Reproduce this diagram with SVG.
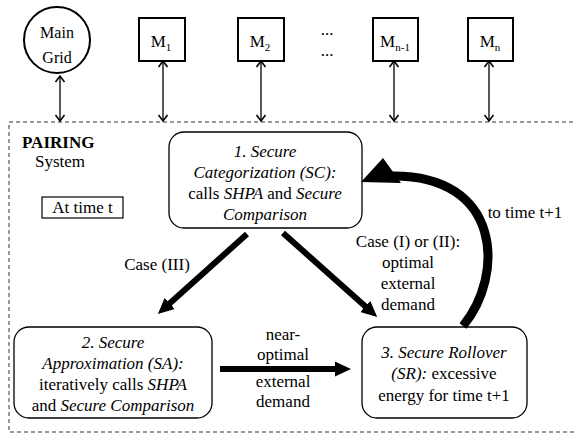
<svg xmlns="http://www.w3.org/2000/svg" width="574" height="435" viewBox="0 0 574 435">
<defs>
<style>
text{font-family:'Liberation Serif','DejaVu Serif',serif;font-size:17px;fill:#000}
.c{text-anchor:middle}
.i{font-style:italic}
.box{fill:#fff;stroke:#000;stroke-width:2}
.rbox{fill:#fff;stroke:#000;stroke-width:1.3}
.thin{stroke:#000;stroke-width:1.3;fill:none;marker-start:url(#v);marker-end:url(#v)}
.thick{stroke:#000;stroke-width:6;fill:none;marker-end:url(#tri)}
</style>
<marker id="v" markerUnits="userSpaceOnUse" markerWidth="14" markerHeight="14" viewBox="-10 -7 14 14" refX="0" refY="0" orient="auto-start-reverse">
<path d="M-6,-4.5 L0,0 L-6,4.5" fill="none" stroke="#000" stroke-width="1.6"/>
</marker>
<marker id="tri" markerUnits="userSpaceOnUse" markerWidth="18" markerHeight="18" viewBox="-1 -9 18 18" refX="0" refY="0" orient="auto">
<path d="M-1,-7.5 L15,0 L-1,7.5 z" fill="#000"/>
</marker>
</defs>

<path d="M580,122 H9 V432 H580" fill="none" stroke="#333" stroke-width="1" stroke-dasharray="4,3"/>

<g font-family="Liberation Serif, serif">
<g id="main-grid">
<circle cx="57" cy="40" r="33" class="box"/>
<text x="57" y="38" class="c" style="font-size:16px">Main</text>
<text x="57" y="63" class="c" style="font-size:16px">Grid</text>
</g>
<g id="m1">
<rect x="139" y="18" width="46" height="43" class="box"/>
<text x="161" y="47" class="c">M<tspan dy="4" font-size="11">1</tspan></text>
</g>
<g id="m2">
<rect x="238" y="18" width="46" height="43" class="box"/>
<text x="260" y="47" class="c">M<tspan dy="4" font-size="11">2</tspan></text>
</g>
<g id="dots">
<text x="327" y="35" class="c">...</text>
<text x="327" y="56" class="c">...</text>
</g>
<g id="mn-1">
<rect x="373" y="18" width="45" height="43" class="box"/>
<text x="395" y="47" class="c">M<tspan dy="4" font-size="11">n-1</tspan></text>
</g>
<g id="mn">
<rect x="468" y="18" width="45" height="43" class="box"/>
<text x="490" y="47" class="c">M<tspan dy="4" font-size="11">n</tspan></text>
</g>

<g id="pairing">
<text x="22" y="148" style="font-weight:bold">PAIRING</text>
<text x="35" y="167">System</text>
</g>
<g id="at-time">
<rect x="42" y="197" width="81" height="21" fill="#fff" stroke="#000" stroke-width="1.2"/>
<text x="82.5" y="213" class="c">At time t</text>
</g>

<g id="sc">
<rect x="169" y="132" width="193" height="96" rx="15" class="rbox"/>
<text x="265" y="157" class="c i">1. Secure</text>
<text x="265" y="178" class="c i">Categorization (SC):</text>
<text x="265" y="199" class="c">calls <tspan class="i">SHPA</tspan> and <tspan class="i">Secure</tspan></text>
<text x="265" y="220" class="c i">Comparison</text>
</g>
<g id="sa">
<rect x="14" y="327" width="198" height="91" rx="15" class="rbox"/>
<text x="113" y="348" class="c i">2. Secure</text>
<text x="113" y="369" class="c i">Approximation (SA):</text>
<text x="113" y="390" class="c">iteratively calls <tspan class="i">SHPA</tspan></text>
<text x="113" y="411" class="c">and <tspan class="i">Secure Comparison</tspan></text>
</g>
<g id="sr">
<rect x="362" y="327" width="165" height="91" rx="15" class="rbox"/>
<text x="444" y="358" class="c i">3. Secure Rollover</text>
<text x="444" y="379" class="c"><tspan class="i">(SR):</tspan> excessive</text>
<text x="444" y="401" class="c">energy for time t+1</text>
</g>

<g id="connectors">
<line x1="60" y1="76" x2="60" y2="121" class="thin"/>
<line x1="163" y1="61" x2="163" y2="121" class="thin"/>
<line x1="261" y1="61" x2="261" y2="121" class="thin"/>
<line x1="394" y1="61" x2="394" y2="121" class="thin"/>
<line x1="489" y1="61" x2="489" y2="121" class="thin"/>
<line x1="247" y1="234" x2="169" y2="304" class="thick"/>
<line x1="283" y1="233" x2="366" y2="307" class="thick"/>
<line x1="220" y1="369" x2="336" y2="369" class="thick"/>
<path d="M463,326 C505,275 502,175 392,176" fill="none" stroke="#000" stroke-width="9"/>
<polygon points="361,182 383,158 401,183" fill="#000"/>
</g>

<g id="labels">
<text x="157" y="270" class="c">Case (III)</text>
<text x="408" y="247" class="c">Case (I) or (II):</text>
<text x="408" y="268" class="c">optimal</text>
<text x="408" y="289" class="c">external</text>
<text x="408" y="310" class="c">demand</text>
<text x="525" y="218" class="c">to time t+1</text>
<text x="283" y="340" class="c">near-</text>
<text x="283" y="360" class="c">optimal</text>
<text x="283" y="387" class="c">external</text>
<text x="283" y="407" class="c">demand</text>
</g>
</g>
</svg>
